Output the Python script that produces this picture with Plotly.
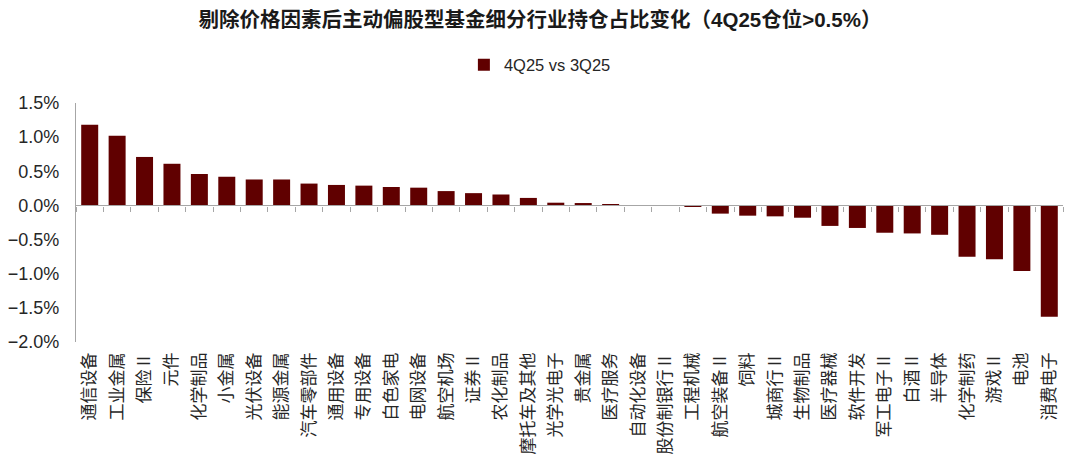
import plotly.graph_objects as go

categories = ["通信设备", "工业金属", "保险Ⅱ", "元件", "化学制品", "小金属", "光伏设备", "能源金属",
              "汽车零部件", "通用设备", "专用设备", "白色家电", "电网设备", "航空机场", "证券Ⅱ", "农化制品",
              "摩托车及其他", "光学光电子", "贵金属", "医疗服务", "自动化设备", "股份制银行Ⅱ", "工程机械",
              "航空装备Ⅱ", "饲料", "城商行Ⅱ", "生物制品", "医疗器械", "软件开发", "军工电子Ⅱ", "白酒Ⅱ",
              "半导体", "化学制药", "游戏Ⅱ", "电池", "消费电子"]
values = [1.18, 1.02, 0.71, 0.61, 0.46, 0.42, 0.38, 0.38,
          0.32, 0.30, 0.29, 0.27, 0.26, 0.21, 0.18, 0.16,
          0.11, 0.04, 0.035, 0.008, 0.005, 0.003, -0.02,
          -0.12, -0.15, -0.16, -0.18, -0.30, -0.33, -0.40, -0.41,
          -0.43, -0.75, -0.79, -0.96, -1.63]
series_name = "4Q25 vs 3Q25"
title_text = "剔除价格因素后主动偏股型基金细分行业持仓占比变化（4Q25仓位>0.5%）"
y_min, y_max, y_step = -2.0, 1.5, 0.5

BAR = "#600000"
AX = "#a6a6a6"
FONT = "Liberation Sans, Noto Sans CJK SC, sans-serif"
CJK = "Noto Sans CJK SC, sans-serif"

fig = go.Figure()
# bars live on the zero-crossing axis (x); labels on a bottom axis (x2)
fig.add_trace(go.Bar(x=categories, y=values, name=series_name, marker_color=BAR,
                     marker_line_width=0))
fig.add_trace(go.Scatter(x=categories, y=values, xaxis="x2", mode="markers",
                         marker=dict(opacity=0), showlegend=False, hoverinfo="skip"))

zero_pos = (0 - y_min) / (y_max - y_min)

fig.update_layout(
    width=1080, height=460,
    margin=dict(l=76, r=17, t=103, b=118, autoexpand=False),
    paper_bgcolor="white", plot_bgcolor="white",
    font=dict(family=FONT, size=15, color="#262626"),
    bargap=0.38,
    title=dict(text="<b>" + title_text + "</b>", x=0.5, xanchor="center", y=1 - 20 / 460, yanchor="middle",
               font=dict(family=FONT, size=20.5, color="#1a1a1a")),
    showlegend=True,
    legend=dict(orientation="h", x=0.47, xanchor="center", yref="container", y=1 - 65 / 460,
                yanchor="middle", font=dict(size=16.5, color="#262626"), itemwidth=30),
    xaxis=dict(type="category", categoryarray=categories, range=[-0.5, len(categories) - 0.5],
               anchor="free", position=zero_pos, side="bottom",
               showline=True, linecolor=AX, linewidth=1.3, ticks="outside", ticklen=5,
               tickcolor=AX, tickwidth=1.3, tickson="boundaries", showticklabels=False,
               showgrid=False, zeroline=False, layer="above traces"),
    xaxis2=dict(type="category", categoryarray=categories, range=[-0.5, len(categories) - 0.5],
                overlaying="x", anchor="y", side="bottom",
                showline=False, ticks="", tickangle=-90, showgrid=False, zeroline=False,
                tickfont=dict(family=CJK, size=17, color="#262626"), ticklabelstandoff=6),
    yaxis=dict(range=[y_min, y_max], dtick=y_step, tick0=0, tickformat=".1f", ticksuffix="%",
               showline=True, linecolor=AX, linewidth=1.3, ticks="", showgrid=False,
               zeroline=True, zerolinecolor=AX, zerolinewidth=1.3,
               tickfont=dict(size=18, color="#262626"), ticklabelstandoff=12),
)

fig.write_html("out.html", config={"displayModeBar": False},
               post_script="document.body.style.margin='0';")
